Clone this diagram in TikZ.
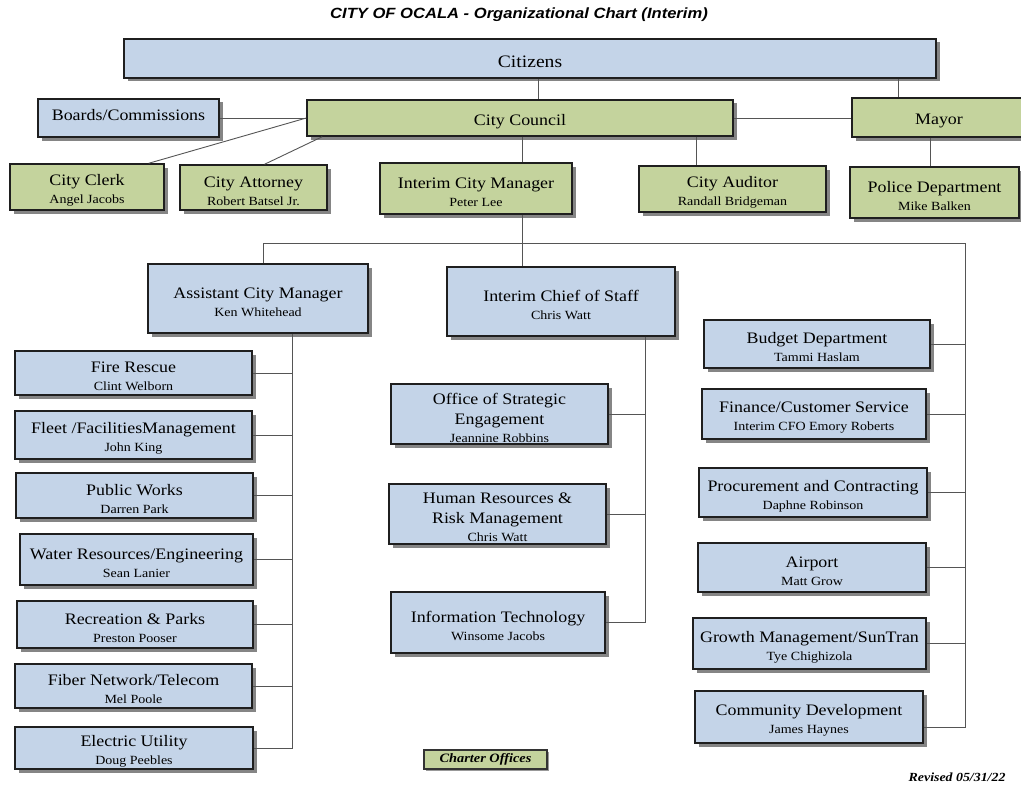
\documentclass[tikz,border=0pt]{standalone}
\usepackage{fontspec}
\setmainfont{Liberation Serif}[FakeStretch=1.12]
\newfontfamily\titlefont{Liberation Sans}[FakeStretch=1.12]
\usetikzlibrary{shadows,calc}
\definecolor{cblue}{HTML}{C4D4E8}
\definecolor{cgreen}{HTML}{C4D39D}
\definecolor{cline}{HTML}{555555}
\newcommand\nm{\fontsize{12.5}{14}\selectfont}
\newcommand\obox[7]{%
  \node[#6, minimum width={#4-#2}, minimum height={#5-#3}] (#1) at ({(#2+#4)/2},{(#3+#5)/2}) {};
  \node[boxtext] (#1-t) at ([yshift=-3.5pt]#1.center) {#7};}
\tikzset{
  box/.style={draw=black!88, line width=1.4pt, inner sep=0pt,
    drop shadow={shadow xshift=3.5pt, shadow yshift=-3.5pt, fill=black!48, opacity=1}},
  boxtext/.style={inner sep=0pt, align=center, font=\fontsize{16}{18}\selectfont},
  bluebox/.style={box, fill=cblue},
  greenbox/.style={box, fill=cgreen},
  conn/.style={draw=cline, line width=0.9pt}
}
\begin{document}
\begin{tikzpicture}[x=1pt, y=-1pt]
\useasboundingbox (0,0) rectangle (1021,792);
\fill[white] (0,0) rectangle (1021,792);
\clip (0,0) rectangle (1021,792);

% title
\node[font=\titlefont\bfseries\itshape\fontsize{14.8}{17}\selectfont] (title) at (519,15) {CITY OF OCALA - Organizational Chart (Interim)};

% top tier
\obox{cit}{124}{39}{936}{78}{bluebox}{\fontsize{17.5}{20}\selectfont Citizens}
\obox{boards}{38}{99}{219}{137}{bluebox}{\raisebox{14pt}{Boards/Commissions}}
\obox{council}{307}{100}{733}{136}{greenbox}{City Council}
\obox{mayor}{852}{98}{1026}{137}{greenbox}{Mayor}
\obox{clerk}{10}{164}{164}{210}{greenbox}{City Clerk\\{\nm Angel Jacobs}}
\obox{att}{180}{165}{327}{210}{greenbox}{City Attorney\\{\nm Robert Batsel Jr.}}
\obox{icm}{380}{163}{572}{214}{greenbox}{Interim City Manager\\{\nm Peter Lee}}
\obox{aud}{639}{166}{826}{212}{greenbox}{City Auditor\\{\nm Randall Bridgeman}}
\obox{pol}{850}{167}{1019}{218}{greenbox}{Police Department\\{\nm Mike Balken}}

% second tier
\obox{acm}{148}{264}{368}{333}{bluebox}{Assistant City Manager\\{\nm Ken Whitehead}}
\obox{icos}{447}{267}{675}{336}{bluebox}{Interim Chief of Staff\\{\nm Chris Watt}}

% left column
\obox{fire}{15}{351}{252}{395}{bluebox}{Fire Rescue\\{\nm Clint Welborn}}
\obox{fleet}{15}{411}{252}{459}{bluebox}{Fleet /FacilitiesManagement\\{\nm John King}}
\obox{pw}{16}{473}{253}{518}{bluebox}{Public Works\\{\nm Darren Park}}
\obox{water}{20}{534}{253}{585}{bluebox}{Water Resources/Engineering\\{\nm Sean Lanier}}
\obox{rec}{17}{601}{253}{648}{bluebox}{Recreation \& Parks\\{\nm Preston Pooser}}
\obox{fiber}{15}{664}{252}{708}{bluebox}{Fiber Network/Telecom\\{\nm Mel Poole}}
\obox{elec}{15}{727}{253}{769}{bluebox}{Electric Utility\\{\nm Doug Peebles}}

% middle column
\obox{ose}{391}{384}{608}{444}{bluebox}{Office of Strategic\\[2pt]Engagement\\{\nm Jeannine Robbins}}
\obox{hr}{389}{484}{606}{544}{bluebox}{Human Resources \&\\[2pt]Risk Management\\{\nm Chris Watt}}
\obox{it}{391}{592}{605}{653}{bluebox}{Information Technology\\{\nm Winsome Jacobs}}

% right column
\obox{bud}{704}{320}{930}{368}{bluebox}{Budget Department\\{\nm Tammi Haslam}}
\obox{fin}{702}{389}{926}{439}{bluebox}{Finance/Customer Service\\{\nm Interim CFO Emory Roberts}}
\obox{proc}{699}{468}{927}{517}{bluebox}{Procurement and Contracting\\{\nm Daphne Robinson}}
\obox{air}{698}{543}{926}{592}{bluebox}{Airport\\{\nm Matt Grow}}
\obox{grow}{693}{618}{926}{669}{bluebox}{Growth Management/SunTran\\{\nm Tye Chighizola}}
\obox{cd}{695}{691}{923}{743}{bluebox}{Community Development\\{\nm James Haynes}}

% legend
\node[draw=black!80, line width=1.2pt, fill=cgreen, inner sep=0pt, minimum width=123pt, minimum height=19pt,
  drop shadow={shadow xshift=2pt, shadow yshift=-2pt, fill=black!40, opacity=1},
  font=\bfseries\itshape\fontsize{12.8}{14}\selectfont] (charter) at (485.5,759.5) {Charter Offices};
\node[anchor=east, font=\bfseries\itshape\fontsize{12.4}{14}\selectfont] (revised) at (1009,777.5) {Revised 05/31/22};

% helper coordinates
\coordinate (xa) at (538,0);
\coordinate (xb) at (898,0);
\coordinate (xc) at (522,0);
\coordinate (xd) at (696,0);
\coordinate (xe) at (930,0);
\coordinate (busL) at (263,243);
\coordinate (busR) at (965,243);
\coordinate (va) at (292,0);
\coordinate (vb) at (645,0);

% connectors, top
\draw[conn] (cit.south -| xa) -- (council.north -| xa);
\draw[conn] (cit.south -| xb) -- (mayor.north -| xb);
\draw[conn] (council.east) -- (council.east -| mayor.west);
\draw[conn] (boards.east) -- (boards.east -| council.west);
\draw[conn] (council.west) -- ([xshift=-16pt]clerk.north east);
\draw[conn] ([xshift=16pt]council.south west) -- ([xshift=11pt]att.north);
\draw[conn] (council.south -| xc) -- (icm.north -| xc);
\draw[conn] (council.south -| xd) -- (aud.north -| xd);
\draw[conn] (mayor.south -| xe) -- (pol.north -| xe);

% manager tier
\draw[conn] (icm.south -| xc) -- (icos.north -| xc);
\draw[conn] (acm.north -| busL) -- (busL) -- (busR) -- ([yshift=-10pt]cd.east -| busR) -- ([yshift=-10pt]cd.east);

% ACM branch
\draw[conn] (acm.south -| va) -- (elec.east -| va) -- (elec.east);
\foreach \b in {fire,fleet,pw,water,rec,fiber}
  \draw[conn] (\b.east) -- (\b.east -| va);

% Chief of staff branch
\draw[conn] (icos.south -| vb) -- (it.east -| vb) -- (it.east);
\foreach \b in {ose,hr}
  \draw[conn] (\b.east) -- (\b.east -| vb);

% right branch
\foreach \b in {bud,fin,proc,air,grow}
  \draw[conn] (\b.east) -- (\b.east -| busR);
\end{tikzpicture}
\end{document}
